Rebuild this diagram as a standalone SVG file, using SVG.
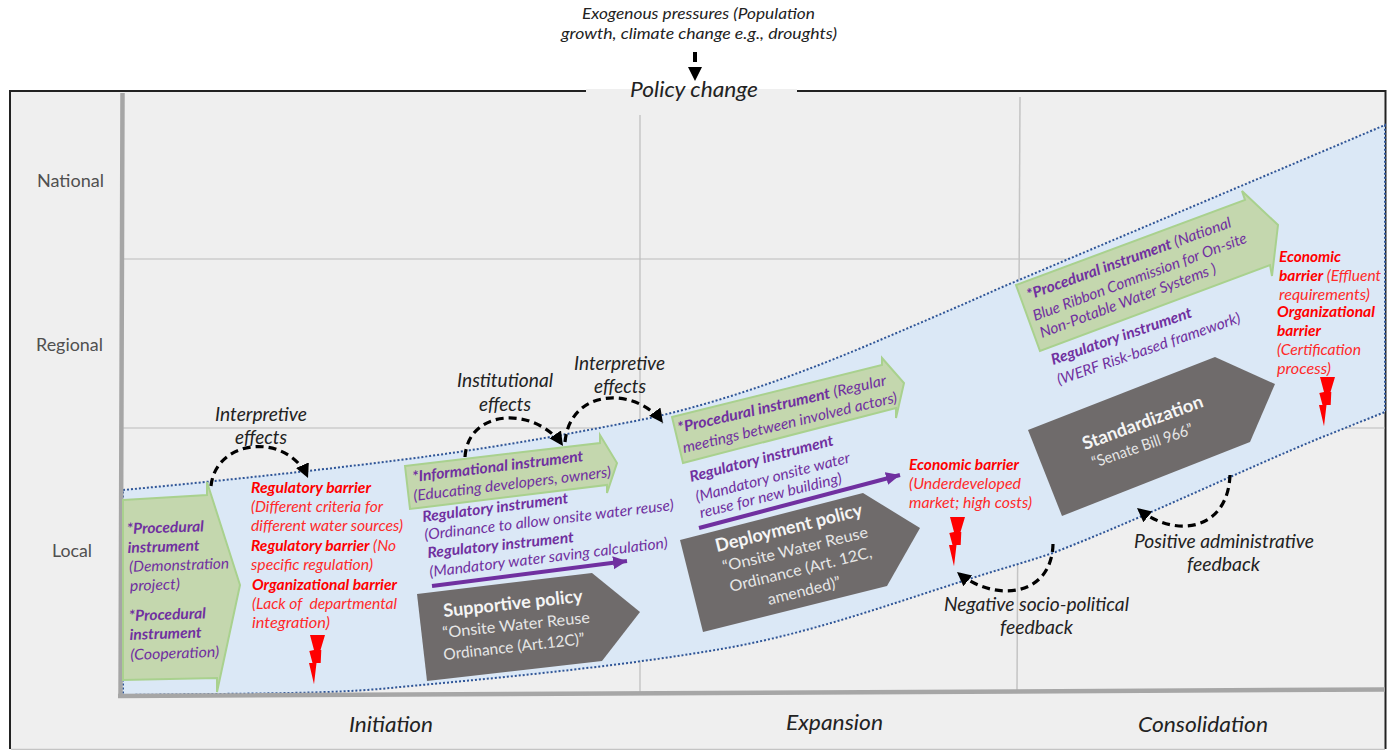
<svg xmlns="http://www.w3.org/2000/svg" width="1388" height="750" viewBox="0 0 1388 750">
<style>
text{font-family:"Lato","Carlito","Liberation Sans",sans-serif;}
.k{font-style:italic;fill:#222;}
.s{font-size:16px;}
.e{font-size:18.5px;}
.ph{font-size:22px;}
.ax{font-size:17.5px;fill:#505050;}
.r{font-size:15px;font-style:italic;fill:#ff2a2a;}
.p{font-size:15px;font-style:italic;fill:#7030a0;}
.b{font-weight:700;}
.rb{font-weight:700;fill:#f00;}
.w{font-size:15.5px;fill:#e6e6e6;}
.wb{font-size:18px;font-weight:700;fill:#f5f5f5;}
.g{fill:#c4d7ae;stroke:#a9d18e;stroke-width:2;}
.d{fill:#6f6b6b;}
.grid{stroke:#bcbcbc;stroke-width:1.2;fill:none;}
.axis{stroke:#a6a6a6;stroke-width:4.5;fill:none;}
.dash{fill:none;stroke:#000;stroke-width:3.2;stroke-dasharray:8 5;}
.pa{fill:none;stroke:#7030a0;stroke-width:4;}
.bolt{fill:#f00;}
</style>
<defs>
<marker id="ah" markerUnits="userSpaceOnUse" markerWidth="16" markerHeight="16" refX="14" refY="7" orient="auto"><path d="M0,0L14,7L0,14Z" fill="#000"/></marker>
<marker id="pah" markerUnits="userSpaceOnUse" markerWidth="16" markerHeight="14" refX="14" refY="6.5" orient="auto"><path d="M0,0L14,6.5L0,13Z" fill="#7030a0"/></marker>
<path id="bolt" d="M0,0L15,0L10.5,15L11.3,15L10.7,28L6.5,28L4,49.3L-1,28L2.5,28L-0.7,16L4,15Z"/>
</defs>
<rect width="1388" height="750" fill="#fff"/>
<g id="frame">
<rect x="10" y="91" width="1375.500" height="658" fill="#efefef"/>
<path d="M10,749V91H1385.500V749" fill="none" stroke="#222" stroke-width="2"/>
<rect x="586" y="84" width="211" height="5" fill="#fff"/>
<rect x="586" y="89" width="211" height="5" fill="#efefef"/>
<path d="M11,749.500H1385" stroke="#c4c4c4" stroke-width="1.500"/>
</g>
<g id="grid">
<path class="grid" d="M123,259H1385M123,428H1385M640,115V693"/>
<path d="M1020,97L1017,690" fill="none" stroke="#c4c4c4" stroke-width="1.500"/>
</g>
<path id="band" d="M123,490C230,480 340,468 430,456C510,445 580,432 650,418C730,400 810,370 880,340C920,323 960,306 1000,288C1130,233 1260,178 1385,125V412L1320,438C1240,471 1150,515 1053,553C1020,564 990,572 960,582C885,606 810,633 727,648C630,665 520,676 400,687C345,693 290,693 218,694L123,695Z" fill="#dbe8f6" stroke="#2f5597" stroke-width="2" stroke-dasharray="2 2"/>
<g id="axes">
<path class="axis" d="M122.500,93L120.500,697M118,696L1385,689.500"/>
</g>
<g id="top-label">
<text class="k s" x="582" y="19" textLength="233" lengthAdjust="spacingAndGlyphs">Exogenous pressures (Population</text>
<text class="k s" x="561" y="39" textLength="276" lengthAdjust="spacingAndGlyphs">growth, climate change e.g., droughts)</text>
<path d="M693,52H697V62H693ZM688,67H702L695,81Z" fill="#000"/>
<text class="k ph" x="630" y="97" textLength="128" lengthAdjust="spacingAndGlyphs">Policy change</text>
</g>
<g id="axis-labels">
<text class="ax" x="37" y="187" textLength="67" lengthAdjust="spacingAndGlyphs">National</text>
<text class="ax" x="36" y="351" textLength="67" lengthAdjust="spacingAndGlyphs">Regional</text>
<text class="ax" x="52" y="557" textLength="40" lengthAdjust="spacingAndGlyphs">Local</text>
<text class="k" font-size="21.500" x="349" y="732" textLength="84" lengthAdjust="spacingAndGlyphs">Initiation</text>
<text class="k" font-size="21.500" x="786" y="730" textLength="97" lengthAdjust="spacingAndGlyphs">Expansion</text>
<text class="k" font-size="21.500" x="1138" y="732" textLength="130" lengthAdjust="spacingAndGlyphs">Consolidation</text>
</g>
<g id="connectors">
<path class="dash" marker-end="url(#ah)" d="M211,486C216,438 288,432 308,478"/>
<path class="dash" marker-end="url(#ah)" d="M465,457C468,408 536,406 563,446"/>
<path class="dash" marker-end="url(#ah)" d="M565,442C570,388 636,386 663,423"/>
<path class="dash" marker-end="url(#ah)" d="M1053,544C1052,596 996,604 957,572"/>
<path class="dash" marker-end="url(#ah)" d="M1230,475C1228,530 1176,540 1137,508"/>
<path class="pa" marker-end="url(#pah)" d="M432,586L627,561"/>
<path class="pa" marker-end="url(#pah)" d="M699,528L900,475"/>
</g>
<g id="procedural-1">
<path class="g" d="M123,500L207,495V482L240,585L217,692V678L123,680Z"/>
<g transform="rotate(-2 127 533)">
<text class="p b" x="127" y="534" textLength="77" lengthAdjust="spacingAndGlyphs">*Procedural</text>
<text class="p b" x="127" y="553" textLength="72" lengthAdjust="spacingAndGlyphs">instrument</text>
<text class="p" x="128" y="572" textLength="100" lengthAdjust="spacingAndGlyphs">(Demonstration</text>
<text class="p" x="128" y="591" textLength="50" lengthAdjust="spacingAndGlyphs">project)</text>
<text class="p b" x="126" y="621" textLength="77" lengthAdjust="spacingAndGlyphs">*Procedural</text>
<text class="p b" x="126" y="640" textLength="72" lengthAdjust="spacingAndGlyphs">instrument</text>
<text class="p" x="126" y="660" textLength="89" lengthAdjust="spacingAndGlyphs">(Cooperation)</text>
</g>
</g>
<g id="informational">
<path class="g" d="M405,466L600,443V435L617,463L607,493V485L410,509Z"/>
<text class="p b" transform="translate(413 482) rotate(-7)" textLength="172" lengthAdjust="spacingAndGlyphs">*Informational instrument</text>
<text class="p" transform="translate(414 501) rotate(-7)" textLength="199" lengthAdjust="spacingAndGlyphs">(Educating developers, owners)</text>
</g>
<g id="regulatory-1">
<text class="p b" transform="translate(423 522) rotate(-7.400)" textLength="147" lengthAdjust="spacingAndGlyphs">Regulatory instrument</text>
<text class="p" transform="translate(425 540) rotate(-6.900)" textLength="251" lengthAdjust="spacingAndGlyphs">(Ordinance to allow onsite water reuse)</text>
<text class="p b" transform="translate(428 558) rotate(-6.200)" textLength="147" lengthAdjust="spacingAndGlyphs">Regulatory instrument</text>
<text class="p" transform="translate(430 577) rotate(-7)" textLength="240" lengthAdjust="spacingAndGlyphs">(Mandatory water saving calculation)</text>
</g>
<g id="supportive">
<path class="d" d="M417,594L592,573L640,612L602,661L427,681Z"/>
<text class="wb" transform="translate(444 617) rotate(-6.200)" textLength="140" lengthAdjust="spacingAndGlyphs">Supportive policy</text>
<text class="w" transform="translate(443 638) rotate(-6)" textLength="148" lengthAdjust="spacingAndGlyphs">“Onsite Water Reuse</text>
<text class="w" transform="translate(444 660) rotate(-6.500)" textLength="142" lengthAdjust="spacingAndGlyphs">Ordinance (Art.12C)”</text>
</g>
<g id="procedural-2">
<path class="g" d="M672,417L882,365V358L904,383L896,418V408L683,463Z"/>
<text class="p" transform="translate(679 433) rotate(-13)" textLength="213.500" lengthAdjust="spacingAndGlyphs"><tspan class="b">*Procedural  instrument</tspan> (Regular</text>
<text class="p" transform="translate(684 453) rotate(-13.400)" textLength="220" lengthAdjust="spacingAndGlyphs">meetings between involved actors)</text>
</g>
<g id="regulatory-2">
<text class="p b" transform="translate(691 482) rotate(-14.500)" textLength="148" lengthAdjust="spacingAndGlyphs">Regulatory instrument</text>
<text class="p" transform="translate(697 502) rotate(-14.500)" textLength="159" lengthAdjust="spacingAndGlyphs">(Mandatory onsite water</text>
<text class="p" transform="translate(701 518) rotate(-14)" textLength="146" lengthAdjust="spacingAndGlyphs">reuse for new building)</text>
</g>
<g id="deployment">
<path class="d" d="M680,540L863,493L920,528L887,586L703,632Z"/>
<text class="wb" transform="translate(717 552) rotate(-14)" textLength="151" lengthAdjust="spacingAndGlyphs">Deployment policy</text>
<text class="w" transform="translate(724 572) rotate(-13.600)" textLength="149" lengthAdjust="spacingAndGlyphs">“Onsite Water Reuse</text>
<text class="w" transform="translate(731 592) rotate(-13.800)" textLength="146" lengthAdjust="spacingAndGlyphs">Ordinance (Art. 12C,</text>
<text class="w" transform="translate(769 605) rotate(-14)" textLength="75" lengthAdjust="spacingAndGlyphs">amended)”</text>
</g>
<g id="procedural-3">
<path class="g" d="M1016,285L1245,200L1242,191L1278,225L1272,276L1270,265L1040,351Z"/>
<text class="p" transform="translate(1029 300) rotate(-19.800)" textLength="216" lengthAdjust="spacingAndGlyphs"><tspan class="b">*Procedural instrument</tspan> (National</text>
<text class="p" transform="translate(1035 321) rotate(-20.300)" textLength="227" lengthAdjust="spacingAndGlyphs">Blue Ribbon Commission for On-site</text>
<text class="p" transform="translate(1042 338) rotate(-20.400)" textLength="187" lengthAdjust="spacingAndGlyphs">Non-Potable Water Systems )</text>
</g>
<g id="regulatory-3">
<text class="p b" transform="translate(1053 365) rotate(-19)" textLength="148" lengthAdjust="spacingAndGlyphs">Regulatory instrument</text>
<text class="p" transform="translate(1059 385) rotate(-19)" textLength="193" lengthAdjust="spacingAndGlyphs">(WERF Risk-based framework)</text>
</g>
<g id="standardization">
<path class="d" d="M1028,430L1215,357L1275,384L1250,442L1062,516Z"/>
<text class="wb" transform="translate(1085 450) rotate(-20)" textLength="127" lengthAdjust="spacingAndGlyphs">Standardization</text>
<text class="w" transform="translate(1094 468) rotate(-19)" textLength="106" lengthAdjust="spacingAndGlyphs">“Senate Bill 966”</text>
</g>
<g id="barriers-1">
<text class="r rb" x="251" y="493" textLength="120" lengthAdjust="spacingAndGlyphs">Regulatory barrier</text>
<text class="r" x="251" y="512" textLength="132" lengthAdjust="spacingAndGlyphs">(Different criteria for</text>
<text class="r" x="251" y="531" textLength="152" lengthAdjust="spacingAndGlyphs">different water sources)</text>
<text class="r" x="251" y="551" textLength="145" lengthAdjust="spacingAndGlyphs"><tspan class="rb">Regulatory barrier</tspan> (No</text>
<text class="r" x="251" y="570" textLength="122" lengthAdjust="spacingAndGlyphs">specific regulation)</text>
<text class="r rb" x="252" y="590" textLength="145" lengthAdjust="spacingAndGlyphs">Organizational barrier</text>
<text class="r" x="252" y="609" textLength="145" lengthAdjust="spacingAndGlyphs" xml:space="preserve">(Lack of  departmental</text>
<text class="r" x="252" y="628" textLength="78" lengthAdjust="spacingAndGlyphs">integration)</text>
<use href="#bolt" class="bolt" x="310" y="635"/>
</g>
<g id="barriers-2">
<text class="r rb" x="909" y="470" textLength="110" lengthAdjust="spacingAndGlyphs">Economic barrier</text>
<text class="r" x="909" y="489" textLength="112" lengthAdjust="spacingAndGlyphs">(Underdeveloped</text>
<text class="r" x="909" y="508" textLength="123" lengthAdjust="spacingAndGlyphs">market; high costs)</text>
<use href="#bolt" class="bolt" x="950" y="517"/>
</g>
<g id="barriers-3">
<text class="r rb" x="1279" y="262" textLength="62" lengthAdjust="spacingAndGlyphs">Economic</text>
<text class="r" x="1279" y="281" textLength="102" lengthAdjust="spacingAndGlyphs"><tspan class="rb">barrier</tspan> (Effluent</text>
<text class="r" x="1279" y="300" textLength="91" lengthAdjust="spacingAndGlyphs">requirements)</text>
<text class="r rb" x="1277" y="317" textLength="98" lengthAdjust="spacingAndGlyphs">Organizational</text>
<text class="r rb" x="1277" y="336" textLength="44" lengthAdjust="spacingAndGlyphs">barrier</text>
<text class="r" x="1277" y="355" textLength="84" lengthAdjust="spacingAndGlyphs">(Certification</text>
<text class="r" x="1277" y="374" textLength="54" lengthAdjust="spacingAndGlyphs">process)</text>
<use href="#bolt" class="bolt" x="1320" y="377"/>
</g>
<g id="effect-labels">
<text class="k e" x="215" y="421" textLength="92" lengthAdjust="spacingAndGlyphs">Interpretive</text>
<text class="k e" x="235" y="444" textLength="52" lengthAdjust="spacingAndGlyphs">effects</text>
<text class="k e" x="457" y="387" textLength="96" lengthAdjust="spacingAndGlyphs">Institutional</text>
<text class="k e" x="479" y="411" textLength="52" lengthAdjust="spacingAndGlyphs">effects</text>
<text class="k e" x="574" y="370" textLength="91" lengthAdjust="spacingAndGlyphs">Interpretive</text>
<text class="k e" x="594" y="393" textLength="52" lengthAdjust="spacingAndGlyphs">effects</text>
<text class="k e" x="1134" y="548" textLength="180" lengthAdjust="spacingAndGlyphs">Positive administrative</text>
<text class="k e" x="1187" y="571" textLength="73" lengthAdjust="spacingAndGlyphs">feedback</text>
<text class="k e" x="944" y="611" textLength="185" lengthAdjust="spacingAndGlyphs">Negative socio-political</text>
<text class="k e" x="1000" y="634" textLength="73" lengthAdjust="spacingAndGlyphs">feedback</text>
</g>
</svg>
